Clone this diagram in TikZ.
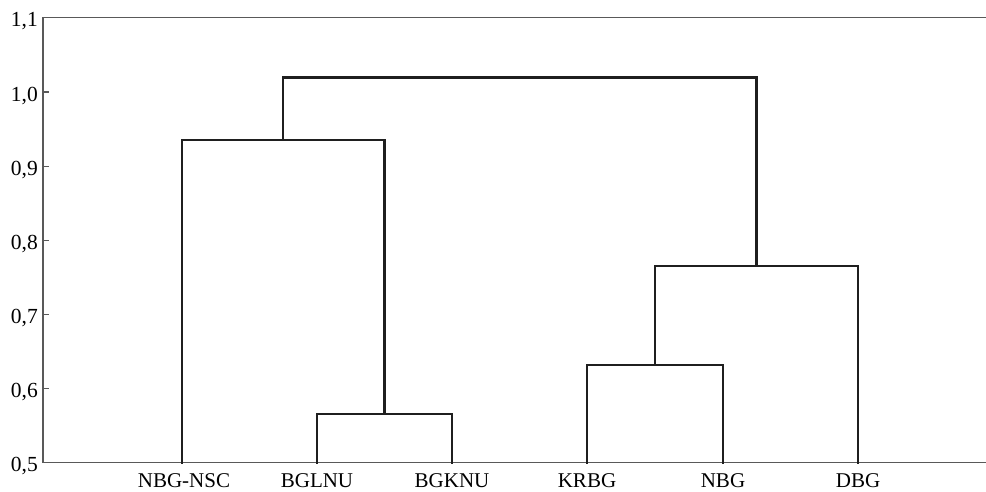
\documentclass[tikz,border=0pt]{standalone}
\usepackage{fontspec}
\setmainfont{Liberation Serif}
\begin{document}
\begin{tikzpicture}[x=1pt,y=-1pt,
  axisline/.style={draw=black!65,line width=1.5pt},
  link/.style={draw=black!88,line width=2.1pt,line cap=rect},
  leaflabel/.style={anchor=base,font=\fontsize{21}{25}\selectfont,inner sep=0pt},
  ticklabel/.style={anchor=base east,font=\fontsize{21.5}{25}\selectfont,inner sep=0pt}]
\useasboundingbox (0,0) rectangle (986,491);

% axes: left, bottom and the top frame line
\coordinate (axTL) at (43,17.5);
\coordinate (axBL) at (43,462.5);
\coordinate (axTR) at (986,17.5);
\coordinate (axBR) at (986,462.5);
\draw[axisline] (axTR) -- (axTL) -- (axBL) -- (axBR);

% y ticks and labels (0.5 ... 1.1)
\foreach \v/\yy/\k in {{0,5}/462.5/a,{0,6}/388.4/b,{0,7}/314.3/c,{0,8}/240.2/d,{0,9}/166.1/e,{1,0}/92/f,{1,1}/17.5/g}{
  \node[ticklabel] (t\k) at (38,\yy+9) {\v};
}
\foreach \yy in {388.4,314.3,240.2,166.1,92}{
  \draw[axisline,line width=1.2pt] (43,\yy) -- (49,\yy);
}

% leaves on the axis
\coordinate (l1) at (182,462.5);
\coordinate (l2) at (317,462.5);
\coordinate (l3) at (452,462.5);
\coordinate (l4) at (587,462.5);
\coordinate (l5) at (723,462.5);
\coordinate (l6) at (858,462.5);

\node[leaflabel] (n1) at (184,487) {NBG-NSC};
\node[leaflabel] (n2) at (317,487) {BGLNU};
\node[leaflabel] (n3) at (452,487) {BGKNU};
\node[leaflabel] (n4) at (587,487) {KRBG};
\node[leaflabel] (n5) at (723,487) {NBG};
\node[leaflabel] (n6) at (858,487) {DBG};

% merge points
\coordinate (ma) at (384.5,414);   % BGLNU + BGKNU
\coordinate (mb) at (655,365);     % KRBG + NBG
\coordinate (mc) at (756.5,266);   % (KRBG,NBG) + DBG
\coordinate (md) at (283,140);     % NBG-NSC + (BGLNU,BGKNU)

% dendrogram links
\draw[link] (l2) |- (ma) -| (l3);
\draw[link] (l4) |- (mb) -| (l5);
\draw[link] (mb) |- (mc) -| (l6);
\draw[link] (l1) |- (md) -| (ma);
\draw[link] (md) |- (283,77.5) -| (mc);
\end{tikzpicture}
\end{document}
